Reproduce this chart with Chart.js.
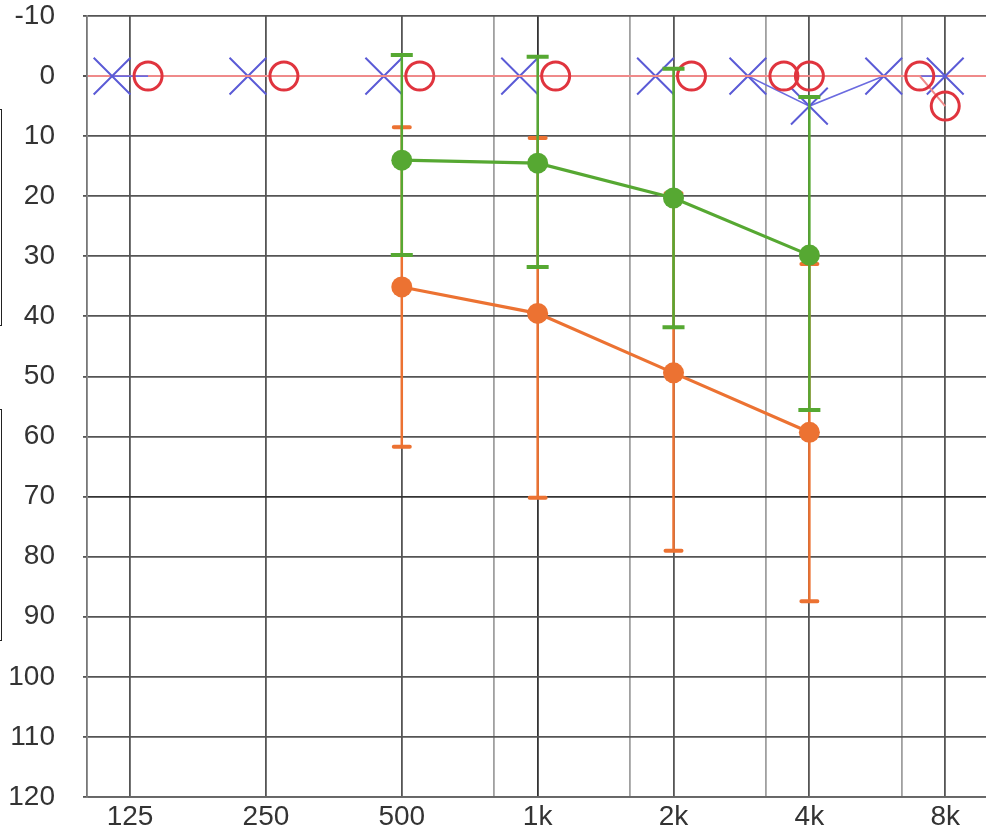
<!DOCTYPE html>
<html lang="en">
<head>
  <meta charset="UTF-8" />
  <title>Audiogram</title>
  <script src="https://cdn.jsdelivr.net/npm/chart.js"></script>
  <style>
    * { margin: 0; padding: 0; box-sizing: border-box; }
    body { background: #fff; width: 986px; height: 832px; overflow: hidden; position: relative; }
    .chart-box { position: absolute; left: 0; top: 0; width: 986px; height: 832px; }
    .bracket { position: absolute; left: -4px; width: 6px; border: 1.5px solid #222; }
  </style>
</head>
<body>
  <div class="bracket" style="top:109px;height:217px"></div>
  <div class="bracket" style="top:409px;height:232px"></div>
  <div class="chart-box"><canvas id="audiogram" width="986" height="832"></canvas></div>

  <script>
    // thresholds per ear (dB HL)
    const freqs    = [125, 250, 500, 1000, 2000, 3000, 4000, 6000, 8000];
    const rightEar = [0, 0, 0, 0, 0, 0, 0, 0, 5];   // red O
    const leftEar  = [0, 0, 0, 0, 0, 0, 5, 0, 0];   // blue X

    // group means with range bars
    const groupFreqs   = [500, 1000, 2000, 4000];
    const greenMean    = [14, 14.5, 20.3, 29.8];
    const greenTop     = [-3.5, -3.2, -1.2, 3.5];
    const greenBottom  = [29.8, 31.8, 41.8, 55.6];
    const orangeMean   = [35.1, 39.5, 49.4, 59.3];
    const orangeTop    = [8.5, 10.3, 19.5, 31.3];
    const orangeBottom = [61.7, 70.2, 79.0, 87.4];

    // axis
    const octaveFreqs  = [125, 250, 500, 1000, 2000, 4000, 8000];
    const octaveLabels = ['125', '250', '500', '1k', '2k', '4k', '8k'];
    const midFreqs     = [750, 1500, 3000, 6000];

    const MID_OCTAVE = 0.68;   // where the in-between lines sit on this form
    const SHIFT = 18;          // side offset for X / O when both ears match

    const GREEN = '#56a832';
    const ORANGE = '#ec7232';
    const FONT = { family: "'Liberation Sans', Arial, sans-serif", size: 28 };

    function pos(f) {
      const oct = Math.log2(f / 125);
      const whole = Math.floor(oct + 1e-9);
      return (oct - whole) < 1e-6 ? whole : whole + MID_OCTAVE;
    }

    const pts = (xs, ys) => xs.map((f, i) => ({ x: pos(f), y: ys[i] }));

    const earOffset = {
      id: 'earOffset',
      afterDatasetsUpdate(chart) {
        const o = chart.getDatasetMeta(2).data;
        const x = chart.getDatasetMeta(3).data;
        freqs.forEach((f, i) => {
          if (rightEar[i] === leftEar[i]) {
            o[i].x += SHIFT;
            x[i].x -= SHIFT;
          }
        });
      }
    };

    function drawBars(chart, top, bottom, color, capW, round) {
      const ctx = chart.ctx;
      const xs = chart.scales.x, ys = chart.scales.y;
      ctx.save();
      ctx.strokeStyle = color;
      groupFreqs.forEach((f, i) => {
        const px = xs.getPixelForValue(pos(f));
        const y1 = ys.getPixelForValue(top[i]);
        const y2 = ys.getPixelForValue(bottom[i]);
        ctx.lineWidth = 2.5;
        ctx.lineCap = 'butt';
        ctx.beginPath();
        ctx.moveTo(px, y1); ctx.lineTo(px, y2);
        ctx.stroke();
        ctx.lineWidth = 4;
        ctx.lineCap = round ? 'round' : 'butt';
        ctx.beginPath();
        ctx.moveTo(px - capW / 2, y1); ctx.lineTo(px + capW / 2, y1);
        ctx.moveTo(px - capW / 2, y2); ctx.lineTo(px + capW / 2, y2);
        ctx.stroke();
      });
      ctx.restore();
    }

    const rangeBars = {
      id: 'rangeBars',
      afterDatasetDraw(chart, args) {
        if (args.index !== 2) return;
        drawBars(chart, orangeTop, orangeBottom, ORANGE, 16, true);
        drawBars(chart, greenTop, greenBottom, GREEN, 22, false);
      }
    };

    new Chart(document.getElementById('audiogram'), {
      type: 'line',
      data: {
        datasets: [
          {
            data: pts(groupFreqs, greenMean),
            borderColor: GREEN, backgroundColor: GREEN, borderWidth: 3.2,
            pointRadius: 10.5, pointBorderWidth: 0, order: 0
          },
          {
            data: pts(groupFreqs, orangeMean),
            borderColor: ORANGE, backgroundColor: ORANGE, borderWidth: 3.2,
            pointRadius: 10.5, pointBorderWidth: 0, order: 1
          },
          {
            data: pts(freqs, rightEar),
            borderColor: '#ef8a8a', borderWidth: 2,
            pointStyle: 'circle', pointRadius: 14, pointBorderWidth: 3,
            pointBorderColor: '#e0343e', pointBackgroundColor: 'rgba(0,0,0,0)', order: 2
          },
          {
            data: pts(freqs, leftEar),
            borderColor: '#6b6be0', borderWidth: 1.6,
            pointStyle: 'crossRot', pointRadius: 26, pointBorderWidth: 2,
            pointBorderColor: '#5b5bd6', order: 3
          }
        ]
      },
      options: {
        responsive: false,
        animation: false,
        devicePixelRatio: 1,
        layout: { autoPadding: false, padding: { top: 16, right: 0, left: 0, bottom: 0 } },
        plugins: { legend: { display: false }, tooltip: { enabled: false } },
        scales: {
          x: {
            type: 'linear', min: -0.317, max: 6.3,
            afterFit: s => { s.height = 35; s.paddingLeft = 0; s.paddingRight = 0; },
            afterBuildTicks: s => {
              s.ticks = octaveFreqs.concat(midFreqs).map(f => ({ value: pos(f) }));
            },
            border: { display: true, color: '#666', width: 1.8 },
            grid: {
              drawTicks: false,
              color: c => c.tick.value === 3 ? '#333' : (Number.isInteger(c.tick.value) ? '#555' : '#a0a0a0'),
              lineWidth: 1.8
            },
            ticks: {
              autoSkip: false, maxRotation: 0, padding: 3,
              color: '#333', font: FONT,
              callback: v => Number.isInteger(v) ? octaveLabels[v] : ''
            }
          },
          y: {
            reverse: true, min: -10, max: 120,
            afterFit: s => { s.width = 87; s.paddingTop = 0; s.paddingBottom = 0; },
            border: { display: true, color: '#777', width: 1.8 },
            grid: {
              drawTicks: true, tickLength: 4,
              tickColor: c => c.tick.value % 10 === 0 ? '#555' : 'rgba(0,0,0,0)',
              color: c => c.tick.value === 0 ? '#ef8a8a'
                : c.tick.value === 70 ? '#333'
                : (c.tick.value % 10 === 0 ? '#555' : '#8c8c8c'),
              lineWidth: c => c.tick.value === 0 ? 2 : (c.tick.value % 10 === 0 ? 1.8 : 1.5)
            },
            ticks: {
              stepSize: 5, padding: 28, color: '#333', font: FONT,
              callback: v => v % 10 === 0 ? v : ''
            }
          }
        }
      },
      plugins: [earOffset, rangeBars]
    });
  </script>
</body>
</html>
